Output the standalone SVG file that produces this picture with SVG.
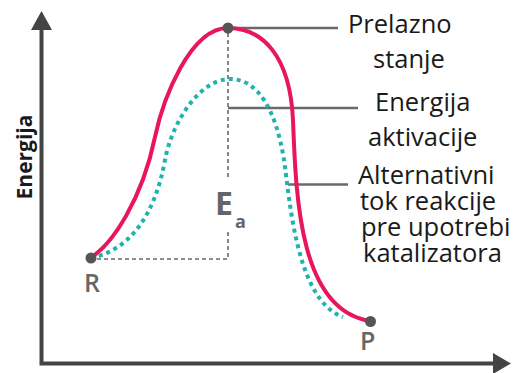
<svg xmlns="http://www.w3.org/2000/svg" width="514" height="373" viewBox="0 0 514 373">
<defs>
<style>
.axis{stroke:#444;stroke-width:4;fill:none}
.head{fill:#444}
.red{stroke:#e8175d;stroke-width:4;fill:none;stroke-linecap:round}
.teal{stroke:#1fb3ad;stroke-width:4;fill:none;stroke-dasharray:4 4}
.guide{stroke:#6a6a6a;stroke-width:1.6;fill:none;stroke-dasharray:4 3}
.lead{stroke:#6a6a6a;stroke-width:2.5;fill:none}
.dot{fill:#555}
.lbl{font-family:"Open Sans","Liberation Sans",sans-serif;font-size:25.5px;fill:#1a1a1a}
.pt{font-family:"Open Sans","Liberation Sans",sans-serif;font-size:25px;font-weight:600;fill:#666}
.ylab{font-family:"Open Sans","Liberation Sans",sans-serif;font-size:21px;font-weight:700;fill:#1a1a1a}
</style>
</defs>
<rect width="514" height="373" fill="#fff"/>
<g id="axes">
<path class="axis" d="M41.5,28 V363.5 H495"/>
<polygon class="head" points="41.5,11 31,30 52,30"/>
<polygon class="head" points="511,363.5 493,353 493,374"/>
<text class="ylab" transform="translate(31.5,157) rotate(-90)" text-anchor="middle">Energija</text>
</g>
<g id="connectors">
<path class="guide" d="M228,33 V178"/>
<path class="guide" d="M228,232 V259 H95"/>
<path class="lead" d="M228,28 H338"/>
<path class="lead" d="M228,108 H358"/>
<path class="lead" d="M288,184.5 H348"/>
</g>
<g id="curves">
<path id="catalyzed" class="teal" d="M91,258 C130,250 155,215 165,160 C172,122 200,79 230,79 C258,79 276,110 284,160 C290,200 296,300 343,317"/>
<path id="uncatalyzed" class="red" d="M90,258 C112,245 142,200 155,137 C163,99 190,28 228,28 C262,28 290,55 293,120 C296,200 300,310 370,321"/>
</g>
<g id="node-R">
<circle class="dot" cx="91" cy="258" r="5.5"/>
<text class="pt" x="84" y="292">R</text>
</g>
<g id="node-P">
<circle class="dot" cx="370.5" cy="321.5" r="5.5"/>
<text class="pt" x="360" y="350">P</text>
</g>
<g id="node-peak">
<circle class="dot" cx="228" cy="28" r="5.5"/>
</g>
<g id="node-Ea">
<text class="pt" x="215" y="215" style="font-size:32px;font-weight:700">E</text>
<text class="pt" x="235" y="228" style="font-size:18px;font-weight:700">a</text>
</g>
<g id="label-prelazno">
<text class="lbl" x="348" y="33">Prelazno</text>
<text class="lbl" x="373" y="68">stanje</text>
</g>
<g id="label-energija">
<text class="lbl" x="375" y="111">Energija</text>
<text class="lbl" x="368" y="146">aktivacije</text>
</g>
<g id="label-alternativni">
<text class="lbl" x="358" y="184">Alternativni</text>
<text class="lbl" x="360" y="210">tok reakcije</text>
<text class="lbl" x="361" y="236">pre upotrebi</text>
<text class="lbl" x="363" y="262">katalizatora</text>
</g>
</svg>
